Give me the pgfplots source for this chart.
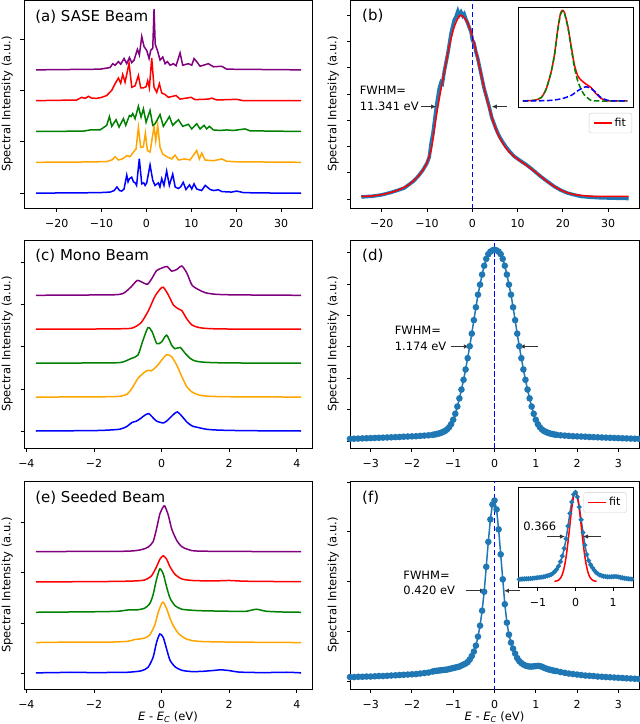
\documentclass[border=0pt]{standalone}
\usepackage{fontspec}
\setmainfont{DejaVu Sans}
\usepackage{pgfplots}
\pgfplotsset{compat=1.18}
\usepackage{pgfplotstable}
\usetikzlibrary{arrows.meta}

\definecolor{mplblue}{HTML}{1F77B4}
\definecolor{mblue}{HTML}{0000FF}
\definecolor{morange}{HTML}{FFA500}
\definecolor{mgreen}{HTML}{008000}
\definecolor{mred}{HTML}{FF0000}
\definecolor{mpurple}{HTML}{800080}

\newcommand{\fs}[1]{\fontsize{#1}{#1}\selectfont}

\pgfplotsset{
  panel/.style={
    scale only axis, height=208pt,
    tick align=outside, tick pos=left, major tick length=3.5pt,
    axis line style={line width=0.9pt},
    every tick/.append style={black, line width=0.9pt},
    yticklabel={\mbox{}},
    tick label style={font=\fs{11}},
    xticklabel style={yshift=-4.5pt},
    ylabel={Spectral Intensity (a.u.)},
    ylabel style={at={(axis description cs:-0.058,0.5)}, anchor=center, font=\fs{11.5}},
  },
  inset/.style={
    scale only axis, width=115pt, height=100pt,
    axis background/.style={fill=white},
    axis line style={line width=0.9pt},
    tick align=outside, tick pos=left, major tick length=3.5pt,
    every tick/.append style={black, line width=0.9pt},
    tick label style={font=\fs{11}},
    xticklabel style={yshift=-4.5pt},
  },
  fitlegend/.style={
    legend style={draw=black!20, rounded corners=2pt, font=\fs{11}, fill=white,
      inner xsep=4pt, inner ysep=3pt},
    legend image code/.code={\draw[##1] (0pt,0pt) -- (18pt,0pt);},
  },
  trace/.style={line width=1.5pt},
  dots/.style={mplblue, line width=1.5pt, mark=*, mark size=2.5pt, mark options={fill=mplblue, draw=mplblue}},
  vline/.style={mblue, line width=1.5pt, dash pattern=on 5.5pt off 2.5pt},
}
\tikzset{fwhmarrow/.style={-{Latex[length=5pt,width=4.5pt]}, black!80, line width=0.8pt}}

% ---------- (a) SASE spectra (height above each baseline) ----------
\pgfplotstableread{
x y
-24.6 0
-15 0.005
-10.3 0.01
-8.1 0.02
-7.2 0.05
-6.6 0.12
-6.0 0.05
-5.5 0.04
-5.0 0.08
-4.4 0.35
-4.1 0.22
-3.8 0.28
-3.3 0.31
-2.9 0.22
-2.5 0.2
-2.2 0.15
-1.6 0.67
-1.05 0.18
-0.6 0.2
-0.3 0.15
0.06 0.2
0.8 0.55
1.4 0.25
1.9 0.15
2.66 0.2
3.0 0.12
3.4 0.28
3.9 0.15
4.5 0.43
5.1 0.15
5.85 0.37
6.4 0.12
7.1 0.09
7.6 0.12
8.2 0.21
8.8 0.07
9.6 0.16
10.1 0.08
10.6 0.18
11.2 0.08
12.3 0.05
13.1 0.15
14.2 0.07
15.0 0.05
16.0 0.065
16.8 0.03
19.0 0.02
20.1 0.04
21.6 0.01
25 0.003
34.46 0
}\sasea
\pgfplotstableread{
x y
-24.6 0
-15 0.005
-8.86 0.013
-7.6 0.05
-7.0 0.11
-6.26 0.045
-5.6 0.06
-4.99 0.085
-4.40 0.13
-3.66 0.11
-2.91 0.2
-2.32 0.26
-1.80 0.68
-1.28 0.29
-0.7 0.3
-0.24 0.57
0.21 0.23
0.80 0.2
1.69 0.70
2.07 0.42
2.51 0.72
3.03 0.29
3.63 0.16
4.52 0.11
5.63 0.065
6.37 0.14
7.12 0.045
8.60 0.065
9.72 0.045
11.20 0.23
11.80 0.065
12.32 0.18
13.06 0.045
14.92 0.03
16.78 0.065
17.89 0.02
20 0.01
34.46 0
}\saseb
\pgfplotstableread{
x y
-24.6 0
-14.06 0.007
-12.57 0.03
-10.34 0.03
-8.86 0.12
-8.26 0.29
-7.74 0.1
-6.78 0.23
-6.11 0.085
-5.14 0.25
-4.62 0.12
-3.80 0.31
-3.43 0.29
-3.06 0.35
-2.54 0.25
-1.80 0.49
-1.20 0.28
-0.68 0.44
-0.09 0.18
0.80 0.41
1.40 0.12
1.92 0.15
3.03 0.33
3.77 0.1
5.11 0.29
5.85 0.12
7.12 0.23
8.08 0.1
9.35 0.14
10.09 0.05
11.20 0.15
11.95 0.05
12.84 0.12
13.43 0.05
14.03 0.1
14.92 0.03
16.40 0.02
17.89 0.03
19.37 0.02
21.98 0.05
23.09 0.013
34.46 0
}\sasec
\pgfplotstableread{
x y
-24.6 0
-15.54 0.013
-14.43 0.065
-13.68 0.045
-12.94 0.085
-12.20 0.05
-11.08 0.045
-9.97 0.065
-8.86 0.1
-7.74 0.2
-7.0 0.33
-6.26 0.44
-5.74 0.34
-5.29 0.51
-4.77 0.36
-3.88 0.73
-3.28 0.26
-2.54 0.29
-1.80 0.49
-1.28 0.25
-0.68 0.25
-0.09 0.27
0.28 0.39
0.65 0.25
1.17 0.83
1.69 0.26
2.29 0.16
2.88 0.33
3.40 0.15
4.15 0.12
4.89 0.065
6.60 0.1
7.49 0.03
9.94 0.065
10.83 0.02
13.80 0.03
14.55 0.05
15.66 0.013
20.12 0.026
21.60 0
34.46 0
}\sased
\pgfplotstableread{
x y
-24.6 0
-10.34 0.013
-8.11 0.045
-7.52 0.12
-7.0 0.09
-6.26 0.16
-5.74 0.11
-4.99 0.22
-4.40 0.12
-3.80 0.24
-3.28 0.14
-2.76 0.19
-2.02 0.40
-1.58 0.29
-1.05 0.65
-0.53 0.45
0.06 0.38
0.58 0.22
0.95 0.38
1.40 0.42
1.69 1.18
1.95 0.5
2.14 0.45
2.44 0.38
3.03 0.19
3.63 0.25
4.15 0.12
4.67 0.16
5.26 0.09
6.0 0.12
6.6 0.08
7.49 0.33
8.08 0.09
9.35 0.12
10.09 0.09
10.61 0.22
11.20 0.16
11.95 0.07
13.80 0.12
14.92 0.06
16.78 0.07
17.89 0.013
34.46 0
}\sasee

% ---------- (b) average SASE spectrum and fit ----------
\pgfplotstableread{
x y
-24.5 0.08
-22 0.11
-20 0.16
-18 0.25
-16 0.36
-15 0.42
-14 0.55
-13 0.68
-12 0.86
-11 1.08
-10 1.37
-9.5 1.6
-9.1 2.13
-8.7 2.5
-8.4 2.89
-7.9 3.57
-7.3 4.22
-6.9 4.45
-6.6 4.4
-6.2 4.85
-5.4 5.55
-4.7 6.31
-4.0 6.82
-3.6 6.95
-3.2 7.15
-2.9 7.0
-2.5 7.12
-2.1 6.98
-1.8 7.05
-1.4 6.85
-1.0 6.69
-0.6 6.5
-0.3 6.38
0 6.05
0.4 5.93
0.8 5.6
1.2 5.36
1.9 4.79
2.6 4.22
3.2 3.85
3.75 3.5
4.3 3.1
4.85 2.85
5.4 2.6
6.0 2.38
6.7 2.18
7.4 2.0
8.3 1.8
9.3 1.62
10.7 1.45
12 1.3
12.9 1.18
14 1.02
15.1 0.86
16.5 0.68
18.1 0.48
19.5 0.34
21 0.23
22.5 0.16
24 0.10
26 0.07
28 0.05
30 0.04
32 0.03
34.5 0.02
}\avgb
\pgfplotstableread{
x y
-24.5 0.1
-22 0.12
-20 0.17
-18 0.25
-16 0.37
-14 0.55
-12 0.86
-11 1.08
-10 1.38
-9 1.95
-8 3.1
-7 4.1
-6 5.0
-5 5.9
-4 6.55
-3 6.95
-2.5 7.0
-2 6.95
-1 6.7
0 6.2
1 5.5
2 4.7
3 3.95
4 3.3
5 2.75
6 2.35
7 2.05
8 1.82
9 1.66
10 1.52
11 1.4
12 1.28
13 1.15
14 1.02
15 0.88
16 0.74
17 0.61
18 0.49
19 0.39
20 0.31
21 0.24
22 0.19
24 0.14
26 0.11
30 0.1
34.5 0.1
}\fitb

% ---------- (c) mono spectra ----------
\pgfplotstableread{
x y
-3.72 0
-2.0 0.01
-1.5 0.025
-1.22 0.045
-1.02 0.11
-0.88 0.2
-0.75 0.23
-0.63 0.29
-0.5 0.37
-0.38 0.41
-0.25 0.31
-0.14 0.23
0.06 0.19
0.2 0.27
0.35 0.39
0.47 0.45
0.6 0.35
0.75 0.21
0.9 0.12
1.04 0.09
1.34 0.04
1.73 0.02
2.5 0.008
4.13 0
}\monoa
\pgfplotstableread{
x y
-3.72 0
-2.0 0.005
-1.5 0.01
-1.22 0.02
-1.02 0.07
-0.88 0.2
-0.7 0.44
-0.5 0.59
-0.4 0.63
-0.3 0.62
-0.14 0.73
0.0 0.87
0.15 1.0
0.3 0.95
0.45 0.75
0.6 0.48
0.75 0.24
0.9 0.12
1.1 0.05
1.4 0.02
2.0 0.008
4.13 0
}\monob
\pgfplotstableread{
x y
-3.72 0
-2.0 0.005
-1.22 0.015
-0.9 0.11
-0.7 0.19
-0.55 0.54
-0.4 0.84
-0.28 0.74
-0.14 0.46
0.0 0.5
0.15 0.66
0.3 0.42
0.4 0.34
0.55 0.37
0.7 0.23
0.85 0.11
1.0 0.05
1.3 0.02
2.0 0.005
4.13 0
}\monoc
\pgfplotstableread{
x y
-3.72 0
-2.0 0.005
-1.0 0.015
-0.8 0.05
-0.6 0.16
-0.4 0.42
-0.2 0.77
-0.05 0.94
0.05 0.99
0.2 0.81
0.35 0.57
0.5 0.48
0.6 0.44
0.75 0.24
0.9 0.1
1.1 0.04
1.4 0.015
2.0 0.005
4.13 0
}\monod
\pgfplotstableread{
x y
-3.72 0
-2.0 0.008
-1.3 0.016
-1.1 0.06
-0.9 0.2
-0.72 0.35
-0.55 0.3
-0.42 0.26
-0.3 0.38
-0.15 0.58
0.0 0.64
0.16 0.68
0.3 0.57
0.45 0.61
0.6 0.69
0.75 0.52
0.9 0.24
1.1 0.13
1.3 0.06
1.6 0.024
2.2 0.01
4.13 0
}\monoe

% ---------- (d) average mono spectrum ----------
\pgfplotstableread{
x y
-3.5 0.07
-3.4 0.075
-3.3 0.08
-3.2 0.085
-3.1 0.09
-3.0 0.095
-2.9 0.10
-2.8 0.105
-2.7 0.11
-2.6 0.115
-2.5 0.12
-2.4 0.125
-2.3 0.13
-2.2 0.14
-2.1 0.145
-2.0 0.15
-1.9 0.155
-1.8 0.165
-1.7 0.175
-1.6 0.185
-1.5 0.20
-1.45 0.21
-1.40 0.225
-1.35 0.24
-1.30 0.26
-1.25 0.29
-1.20 0.32
-1.15 0.37
-1.10 0.44
-1.05 0.54
-1.00 0.68
-0.95 0.87
-0.90 1.10
-0.85 1.36
-0.80 1.64
-0.75 1.95
-0.70 2.28
-0.65 2.64
-0.60 3.02
-0.55 3.42
-0.50 3.85
-0.45 4.26
-0.40 4.66
-0.35 4.98
-0.30 5.30
-0.25 5.58
-0.20 5.80
-0.15 5.95
-0.10 6.03
-0.05 6.07
0.00 6.09
0.05 6.07
0.10 6.03
0.15 5.95
0.20 5.80
0.25 5.58
0.30 5.30
0.35 4.98
0.40 4.66
0.45 4.26
0.50 3.85
0.55 3.42
0.60 3.02
0.65 2.64
0.70 2.28
0.75 1.95
0.80 1.64
0.85 1.36
0.90 1.10
0.95 0.87
1.00 0.68
1.05 0.54
1.10 0.44
1.15 0.37
1.20 0.32
1.25 0.29
1.30 0.26
1.35 0.24
1.40 0.225
1.45 0.21
1.5 0.20
1.6 0.185
1.7 0.175
1.8 0.165
1.9 0.155
2.0 0.15
2.1 0.145
2.2 0.14
2.3 0.13
2.4 0.125
2.5 0.12
2.6 0.115
2.7 0.11
2.8 0.105
2.9 0.10
3.0 0.095
3.1 0.09
3.2 0.085
3.3 0.08
3.4 0.075
3.5 0.07
}\avgd

% ---------- (e) seeded spectra ----------
\pgfplotstableread{
x y
-3.72 0
-3.0 0.007
-2.7 0.012
-2.0 0.005
-1.5 0.008
-1.0 0.012
-0.6 0.04
-0.4 0.11
-0.25 0.31
-0.15 0.6
-0.05 0.77
0.05 0.7
0.15 0.47
0.25 0.25
0.4 0.12
0.6 0.05
0.9 0.025
1.2 0.03
1.5 0.045
1.75 0.06
2.0 0.045
2.3 0.015
3.0 0.005
3.7 0.012
4.13 0
}\seeda
\pgfplotstableread{
x y
-3.72 0
-2.6 0.01
-1.5 0.01
-1.0 0.025
-0.8 0.06
-0.65 0.07
-0.5 0.09
-0.35 0.15
-0.2 0.35
-0.1 0.6
0.0 0.77
0.05 0.8
0.15 0.67
0.25 0.48
0.35 0.33
0.5 0.18
0.7 0.08
0.9 0.04
1.2 0.02
2.0 0.01
3.0 0.005
4.13 0
}\seedb
\pgfplotstableread{
x y
-3.72 0
-2.0 0.01
-1.3 0.02
-1.0 0.045
-0.7 0.05
-0.5 0.08
-0.35 0.17
-0.25 0.35
-0.15 0.65
-0.05 0.86
0.05 0.76
0.15 0.5
0.25 0.28
0.4 0.13
0.6 0.06
0.9 0.04
1.2 0.03
2.0 0.02
2.5 0.02
2.8 0.06
3.1 0.02
3.6 0.005
4.13 0
}\seedc
\pgfplotstableread{
x y
-3.72 0
-1.5 0.01
-0.8 0.02
-0.5 0.04
-0.3 0.12
-0.15 0.3
-0.05 0.45
0.05 0.52
0.15 0.45
0.25 0.3
0.4 0.15
0.6 0.06
0.9 0.03
1.5 0.02
2.0 0.03
2.5 0.015
4.13 0.005
}\seedd
\pgfplotstableread{
x y
-3.72 0
-2.5 0.005
-1.0 0.01
-0.6 0.04
-0.4 0.09
-0.25 0.2
-0.15 0.45
-0.05 0.75
0.05 0.89
0.1 0.9
0.2 0.72
0.3 0.45
0.45 0.22
0.6 0.1
0.8 0.04
1.2 0.01
4.13 0
}\seede

% ---------- (f) average seeded spectrum and fit ----------
\pgfplotstableread{
x y
-3.5 0.09
-3.4 0.09
-3.3 0.095
-3.2 0.095
-3.1 0.10
-3.0 0.10
-2.9 0.105
-2.8 0.11
-2.7 0.11
-2.6 0.115
-2.5 0.12
-2.4 0.125
-2.3 0.13
-2.2 0.135
-2.1 0.14
-2.0 0.145
-1.9 0.15
-1.8 0.16
-1.7 0.17
-1.6 0.18
-1.5 0.20
-1.45 0.21
-1.4 0.215
-1.35 0.22
-1.3 0.225
-1.25 0.23
-1.2 0.235
-1.15 0.24
-1.1 0.25
-1.05 0.26
-1.0 0.27
-0.95 0.28
-0.9 0.29
-0.85 0.30
-0.8 0.32
-0.75 0.34
-0.7 0.36
-0.65 0.39
-0.6 0.44
-0.55 0.51
-0.5 0.60
-0.45 0.72
-0.4 0.90
-0.35 1.12
-0.3 1.42
-0.25 1.80
-0.2 2.30
-0.15 2.80
-0.1 3.25
-0.05 3.55
0.0 3.63
0.05 3.45
0.1 3.05
0.15 2.55
0.2 2.05
0.25 1.55
0.3 1.18
0.35 0.94
0.4 0.78
0.45 0.66
0.5 0.56
0.55 0.47
0.6 0.41
0.65 0.37
0.7 0.34
0.75 0.32
0.8 0.31
0.85 0.30
0.9 0.30
0.95 0.305
1.0 0.31
1.05 0.315
1.1 0.31
1.15 0.295
1.2 0.275
1.25 0.26
1.3 0.245
1.35 0.235
1.4 0.225
1.45 0.215
1.5 0.21
1.6 0.19
1.7 0.175
1.8 0.16
1.9 0.15
2.0 0.14
2.1 0.13
2.2 0.12
2.3 0.115
2.4 0.11
2.5 0.10
2.6 0.095
2.7 0.09
2.8 0.085
2.9 0.08
3.0 0.075
3.1 0.07
3.2 0.065
3.3 0.06
3.4 0.055
3.5 0.05
}\avgf
\pgfplotstableread{
x y
-0.56 0.125
-0.52 0.133
-0.48 0.150
-0.44 0.184
-0.40 0.249
-0.36 0.362
-0.32 0.545
-0.28 0.82
-0.24 1.19
-0.20 1.67
-0.16 2.20
-0.12 2.75
-0.08 3.22
-0.04 3.54
0.00 3.66
0.04 3.54
0.08 3.22
0.12 2.75
0.16 2.20
0.20 1.67
0.24 1.19
0.28 0.82
0.32 0.545
0.36 0.362
0.40 0.249
0.44 0.184
0.48 0.150
0.52 0.133
0.56 0.125
}\fitf

\begin{document}
\begin{tikzpicture}
\path[use as bounding box] (0,0) rectangle (640pt,-724pt);

% ================= (a) =================
\begin{axis}[panel, width=288pt, at={(24pt,-208pt)}, anchor=south west,
  xmin=-27.3, xmax=36.9, ymin=-0.29, ymax=3.76,
  xtick={-20,-10,0,10,20,30}, xticklabels={−20,−10,0,10,20,30},
  ytick={0,1,2,3}]
\addplot[trace, mblue] table {\sasea};
\addplot[trace, morange] table[y expr=\thisrow{y}+0.6] {\saseb};
\addplot[trace, mgreen] table[y expr=\thisrow{y}+1.2] {\sasec};
\addplot[trace, mred] table[y expr=\thisrow{y}+1.8] {\sased};
\addplot[trace, mpurple] table[y expr=\thisrow{y}+2.4] {\sasee};
\node[anchor=west, font=\fs{15}] at (rel axis cs:0.027,0.921) {(a) SASE Beam};
\end{axis}

% ================= (b) =================
\begin{axis}[panel, fitlegend, width=289pt, at={(350pt,-208pt)}, anchor=south west,
  xmin=-27.0, xmax=36.8, ymin=-0.34, ymax=7.58,
  xtick={-20,-10,0,10,20,30}, xticklabels={−20,−10,0,10,20,30},
  ytick={0,1,2,3,4,5,6,7},
  legend style={at={(0.976,0.457)}, anchor=north east}]
\addplot[mplblue, line width=3.5pt, forget plot] table {\avgb};
\addplot[mred, line width=1.5pt, smooth, tension=0.4] table {\fitb};
\addlegendentry{fit}
\addplot[vline, forget plot] coordinates {(0,-1) (0,9)};
\node[anchor=west, font=\fs{11.5}] at (axis cs:-25.6,4.16) {FWHM=};
\node[anchor=west, font=\fs{11.5}] at (axis cs:-25.6,3.52) {11.341 eV};
\draw[fwhmarrow] (axis cs:-11.3,3.52) -- (axis cs:-8.0,3.52);
\draw[fwhmarrow] (axis cs:7.6,3.52) -- (axis cs:4.3,3.52);
\node[anchor=west, font=\fs{15}] at (rel axis cs:0.03,0.925) {(b)};
\end{axis}

% inset of (b): two-peak decomposition
\begin{axis}[inset, at={(518pt,-107pt)}, anchor=south west,
  xmin=10, xmax=357, ymin=2, ymax=298, xtick=\empty, ytick=\empty]
\addplot[mred, line width=1.5pt, smooth, tension=0.4] coordinates {
(25,20) (60,22) (80,30) (95,55) (110,106) (120,157) (130,232) (138,278) (144,288)
(150,282) (160,243) (170,185) (180,128) (190,95) (200,82) (215,70) (230,60)
(245,42) (260,28) (275,21) (290,20) (340,20)};
\addplot[mgreen, line width=1.5pt, dash pattern=on 5.5pt off 2.5pt, smooth, tension=0.4] coordinates {
(25,20) (60,22) (80,30) (95,55) (110,105) (120,155) (130,230) (138,275) (144,286)
(150,280) (160,240) (170,180) (180,120) (190,80) (200,55) (210,38) (225,25) (240,20) (340,20)};
\addplot[mblue, line width=1.5pt, dash pattern=on 5.5pt off 2.5pt, smooth, tension=0.4] coordinates {
(25,20) (100,21) (140,26) (170,36) (190,50) (205,58) (215,62) (230,57) (245,45)
(260,30) (280,22) (300,20) (340,20)};
\end{axis}

% ================= (c) =================
\begin{axis}[panel, width=288pt, at={(24pt,-448pt)}, anchor=south west,
  xmin=-4.07, xmax=4.45, ymin=-0.385, ymax=4.52,
  xtick={-4,-2,0,2,4}, xticklabels={−4,−2,0,2,4},
  ytick={0,1,2,3,4}]
\addplot[trace, mblue, smooth, tension=0.4] table[y expr=\thisrow{y}+0.016] {\monoa};
\addplot[trace, morange, smooth, tension=0.4] table[y expr=\thisrow{y}+0.816] {\monob};
\addplot[trace, mgreen, smooth, tension=0.4] table[y expr=\thisrow{y}+1.616] {\monoc};
\addplot[trace, mred, smooth, tension=0.4] table[y expr=\thisrow{y}+2.416] {\monod};
\addplot[trace, mpurple, smooth, tension=0.4] table[y expr=\thisrow{y}+3.216] {\monoe};
\node[anchor=west, font=\fs{15}] at (rel axis cs:0.027,0.923) {(c) Mono Beam};
\end{axis}

% ================= (d) =================
\begin{axis}[panel, width=289pt, at={(350pt,-448pt)}, anchor=south west,
  xmin=-3.5, xmax=3.5, ymin=-0.22, ymax=6.4,
  xtick={-3,-2,-1,0,1,2,3}, xticklabels={−3,−2,−1,0,1,2,3},
  ytick={0,1,2,3,4,5,6}]
\addplot[dots] table {\avgd};
\addplot[vline] coordinates {(0,-1) (0,7)};
\node[anchor=west, font=\fs{11.5}] at (axis cs:-2.5,3.54) {FWHM=};
\node[anchor=west, font=\fs{11.5}] at (axis cs:-2.5,3.01) {1.174 eV};
\draw[fwhmarrow] (axis cs:-1.06,3.01) -- (axis cs:-0.62,3.01);
\draw[fwhmarrow] (axis cs:1.06,3.01) -- (axis cs:0.61,3.01);
\node[anchor=west, font=\fs{15}] at (rel axis cs:0.03,0.925) {(d)};
\end{axis}

% ================= (e) =================
\begin{axis}[panel, width=288pt, at={(24pt,-689pt)}, anchor=south west,
  xmin=-4.07, xmax=4.45, ymin=-0.30, ymax=3.82,
  xtick={-4,-2,0,2,4}, xticklabels={−4,−2,0,2,4},
  ytick={0,1,2,3},
  xlabel={\textit{E} - \textit{E}\textsubscript{\textit{C}} (eV)},
  xlabel style={at={(axis description cs:0.5,-0.135)}, anchor=center, font=\fs{11.5}}]
\addplot[trace, mblue, smooth, tension=0.4] table[y expr=\thisrow{y}+0.02] {\seeda};
\addplot[trace, morange, smooth, tension=0.4] table[y expr=\thisrow{y}+0.62] {\seedb};
\addplot[trace, mgreen, smooth, tension=0.4] table[y expr=\thisrow{y}+1.22] {\seedc};
\addplot[trace, mred, smooth, tension=0.4] table[y expr=\thisrow{y}+1.82] {\seedd};
\addplot[trace, mpurple, smooth, tension=0.4] table[y expr=\thisrow{y}+2.42] {\seede};
\node[anchor=west, font=\fs{15}] at (rel axis cs:0.027,0.92) {(e) Seeded Beam};
\end{axis}

% ================= (f) =================
\begin{axis}[panel, width=289pt, at={(350pt,-689pt)}, anchor=south west,
  xmin=-3.5, xmax=3.5, ymin=-0.15, ymax=4.02,
  xtick={-3,-2,-1,0,1,2,3}, xticklabels={−3,−2,−1,0,1,2,3},
  ytick={0,1,2,3,4},
  xlabel={\textit{E} - \textit{E}\textsubscript{\textit{C}} (eV)},
  xlabel style={at={(axis description cs:0.5,-0.135)}, anchor=center, font=\fs{11.5}}]
\addplot[dots] table {\avgf};
\addplot[vline] coordinates {(0,-1) (0,5)};
\node[anchor=west, font=\fs{11.5}] at (axis cs:-2.29,2.12) {FWHM=};
\node[anchor=west, font=\fs{11.5}] at (axis cs:-2.29,1.82) {0.420 eV};
\draw[fwhmarrow] (axis cs:-0.68,1.82) -- (axis cs:-0.23,1.82);
\draw[fwhmarrow] (axis cs:0.61,1.82) -- (axis cs:0.23,1.82);
\node[anchor=west, font=\fs{15}] at (rel axis cs:0.03,0.918) {(f)};
\end{axis}

% inset of (f): peak with Gaussian fit
\begin{axis}[inset, fitlegend, at={(518pt,-587pt)}, anchor=south west,
  xmin=-1.53, xmax=1.53, ymin=-0.1, ymax=3.84,
  xtick={-1,0,1}, xticklabels={−1,0,1}, ytick=\empty,
  legend style={at={(0.945,0.946)}, anchor=north east}]
\addplot[mplblue, line width=1.5pt, mark=*, mark size=1.6pt, mark options={fill=mplblue, draw=mplblue}, forget plot] table {\avgf};
\addplot[mred, line width=1.5pt, smooth, tension=0.4] table {\fitf};
\addlegendentry{fit}
\node[anchor=center, font=\fs{11.5}] at (axis cs:-0.95,2.29) {0.366};
\draw[fwhmarrow] (axis cs:-0.75,1.89) -- (axis cs:-0.28,1.89);
\draw[fwhmarrow] (axis cs:0.68,1.89) -- (axis cs:0.20,1.89);
\end{axis}
\end{tikzpicture}
\end{document}
